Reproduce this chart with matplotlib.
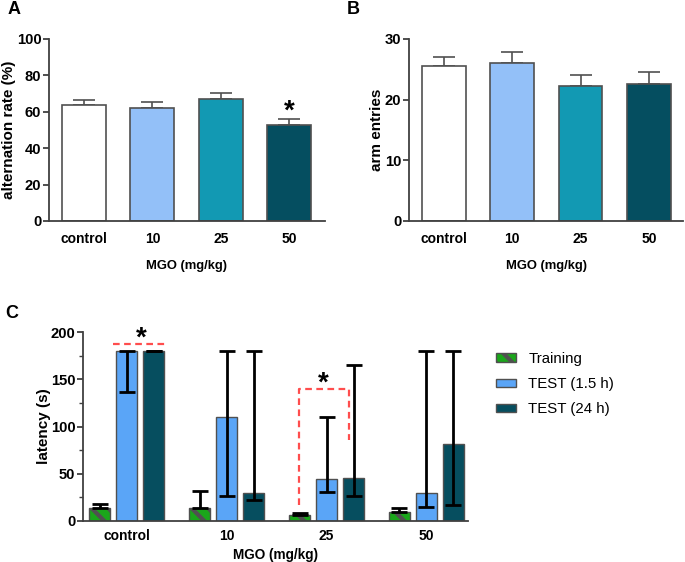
import matplotlib
matplotlib.use("Agg")
import matplotlib.pyplot as plt
import numpy as np
from matplotlib.patches import Patch
from matplotlib.ticker import MultipleLocator

plt.rcParams['font.family'] = ['Liberation Sans', 'DejaVu Sans']
plt.rcParams['hatch.linewidth'] = 3.0
plt.rcParams['hatch.color'] = 'black'

# ---- data ----
groups = ["control", "10", "25", "50"]
alt_rate = [63.5, 62.0, 67.3, 52.5]
alt_err = [3.0, 3.5, 3.2, 3.3]
arm_entries = [25.6, 26.0, 22.3, 22.6]
arm_err = [1.5, 1.8, 1.7, 1.9]

lat_training = [14, 14, 6, 9]
lat_training_lo = [14, 14, 6, 9]
lat_training_hi = [18, 32, 8, 14]
lat_test15 = [180, 110, 44, 30]
lat_test15_lo = [136, 26, 31, 15]
lat_test15_hi = [180, 180, 110, 180]
lat_test24 = [180, 30, 46, 81]
lat_test24_lo = [180, 22, 26, 17]
lat_test24_hi = [180, 180, 165, 180]

series_labels = ["Training", "TEST (1.5 h)", "TEST (24 h)"]

colsAB = ["#ffffff", "#93c0f8", "#1299b3", "#054e60"]
c_train = "#1aa61a"
c_t15 = "#5aa5f7"
c_t24 = "#064e5f"
edge = "#505050"
spine_c = "#404040"

YTICK_FS = 10.6
XTICK_FS = 10.0
YLAB_FS = 11.0
XLAB_FS = 9.4

fig = plt.figure(figsize=(6.85, 5.62), dpi=100)

def style_ax(ax):
    for s in ["top", "right"]:
        ax.spines[s].set_visible(False)
    for s in ["left", "bottom"]:
        ax.spines[s].set_color(spine_c)
        ax.spines[s].set_linewidth(1.3)
    ax.tick_params(axis='y', colors=spine_c, width=1.3, length=4.5, labelcolor='black',
                   labelsize=YTICK_FS, pad=1)
    ax.tick_params(axis='x', length=0, labelsize=XTICK_FS, pad=8)
    for t in ax.get_xticklabels() + ax.get_yticklabels():
        t.set_fontweight('bold')

x4 = np.arange(len(groups))

# ---- Panel A ----
axA = fig.add_axes([49/685, 1-221/562, 276/685, 182/562])
axA.bar(x4, alt_rate, width=0.64, color=colsAB, edgecolor=edge, linewidth=1.2, zorder=2)
axA.errorbar(x4, alt_rate, yerr=[np.zeros(4), alt_err], fmt='none', ecolor=edge,
             elinewidth=1.2, capsize=8, capthick=1.2, zorder=1)
axA.set_xlim(-0.51, 3.52)
axA.set_ylim(0, 100)
axA.set_yticks([0, 20, 40, 60, 80, 100])
axA.set_xticks(x4)
axA.set_xticklabels(groups)
style_ax(axA)
axA.set_ylabel("alternation rate (%)", fontsize=YLAB_FS, fontweight='bold')
axA.yaxis.set_label_coords(-0.12, 0.5)
axA.set_xlabel("MGO (mg/kg)", fontsize=XLAB_FS, fontweight='bold')
axA.xaxis.set_label_coords(0.5, -0.214)
axA.text(3, 60, "*", ha='center', va='center', fontsize=20, fontweight='bold')

# ---- Panel B ----
axB = fig.add_axes([409/685, 1-221/562, 274/685, 182/562])
axB.bar(x4, arm_entries, width=0.64, color=colsAB, edgecolor=edge, linewidth=1.2, zorder=2)
axB.errorbar(x4, arm_entries, yerr=[np.zeros(4), arm_err], fmt='none', ecolor=edge,
             elinewidth=1.2, capsize=8, capthick=1.2, zorder=1)
axB.set_xlim(-0.51, 3.5)
axB.set_ylim(0, 30)
axB.set_yticks([0, 10, 20, 30])
axB.set_xticks(x4)
axB.set_xticklabels(groups)
style_ax(axB)
axB.set_ylabel("arm entries", fontsize=YLAB_FS, fontweight='bold')
axB.yaxis.set_label_coords(-0.09, 0.5)
axB.set_xlabel("MGO (mg/kg)", fontsize=XLAB_FS, fontweight='bold')
axB.xaxis.set_label_coords(0.5, -0.214)

# ---- Panel C ----
axC = fig.add_axes([83/685, 1-521/562, 385/685, 189/562])
w = 0.215
off = 0.27
series = [
    (lat_training, lat_training_lo, lat_training_hi, c_train, '\\\\', -off),
    (lat_test15, lat_test15_lo, lat_test15_hi, c_t15, None, 0.0),
    (lat_test24, lat_test24_lo, lat_test24_hi, c_t24, None, off),
]
for vals, lo, hi, col, hatch, o in series:
    xs = x4 + o
    axC.bar(xs, vals, width=w, color=col, edgecolor=edge, linewidth=1.0,
            hatch=hatch, zorder=2)
    v = np.array(vals, float)
    yerr = [v - np.array(lo, float), np.array(hi, float) - v]
    axC.errorbar(xs, vals, yerr=yerr, fmt='none', ecolor='black', elinewidth=2,
                 capsize=5.5, capthick=2, zorder=3)
axC.set_xlim(-0.435, 3.415)
axC.set_ylim(0, 200)
axC.set_yticks([0, 50, 100, 150, 200])
axC.yaxis.set_minor_locator(MultipleLocator(25))
axC.set_xticks(x4)
axC.set_xticklabels(groups)
style_ax(axC)
axC.tick_params(axis='y', which='minor', length=3, width=1.0, colors=spine_c)
axC.tick_params(axis='x', pad=6)
axC.set_ylabel("latency (s)", fontsize=YLAB_FS, fontweight='bold')
axC.yaxis.set_label_coords(-0.083, 0.5)
axC.set_xlabel("MGO (mg/kg)", fontsize=XLAB_FS + 0.4, fontweight='bold')
axC.xaxis.set_label_coords(0.5, -0.143)

red = "#ff4d4d"
axC.plot([-0.135, 0.38], [187.5, 187.5], color=red, ls=(0, (3, 2)), lw=1.6, zorder=4,
         clip_on=False)
axC.text(0.145, 193, "*", ha='center', va='center', fontsize=20, fontweight='bold')
axC.plot([1.725, 1.725, 2.225, 2.225], [17, 140, 140, 86], color=red, ls=(0, (3, 2)),
         lw=1.6, zorder=4)
axC.text(1.97, 145, "*", ha='center', va='center', fontsize=20, fontweight='bold')

handles = [Patch(facecolor=c_train, edgecolor=edge, hatch='\\\\'),
           Patch(facecolor=c_t15, edgecolor=edge),
           Patch(facecolor=c_t24, edgecolor=edge)]
fig.legend(handles, series_labels, loc='upper left', bbox_to_anchor=(490/685, 1-346/562),
           frameon=False, fontsize=10.8, handlelength=1.35, handleheight=0.5,
           labelspacing=0.75, handletextpad=0.8, borderaxespad=0)

# panel letters
fig.text(8/685, 1-10/562, "A", fontsize=13, fontweight='bold', va='center')
fig.text(347/685, 1-10/562, "B", fontsize=13, fontweight='bold', va='center')
fig.text(5/685, 1-313/562, "C", fontsize=13, fontweight='bold', va='center')

fig.savefig("out.png", dpi=100)
